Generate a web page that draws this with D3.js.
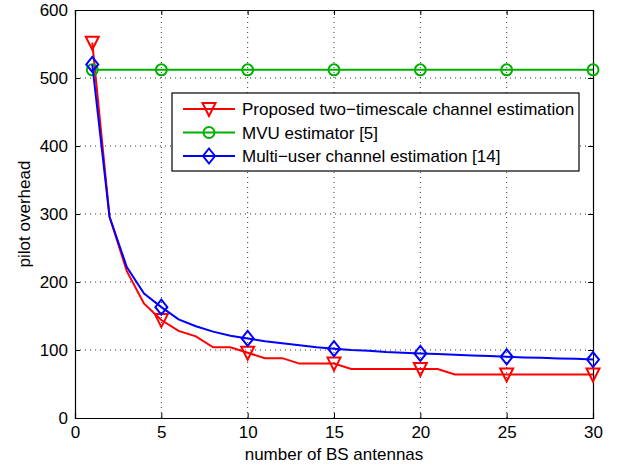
<!DOCTYPE html>
<html>
<head>
<meta charset="utf-8">
<script src="https://cdn.jsdelivr.net/npm/d3@7"></script>
<style>
  body { margin: 0; background: #fff; }
  text { font-family: "Liberation Sans", Arial, sans-serif; fill: #000; }
</style>
</head>
<body>
<script>
const antennas = d3.range(1, 31);
const proposed = [552, 296, 216, 168, 144, 128, 120, 104, 104, 96,
  88, 88, 80, 80, 80, 72, 72, 72, 72, 72,
  72, 64, 64, 64, 64, 64, 64, 64, 64, 64];
const mvu = antennas.map(() => 512);
const multiUser = [520, 296, 222, 183, 163, 145, 135, 127, 121, 117,
  113, 110, 107, 104, 102, 100, 99, 97, 96, 95,
  94, 93, 92, 91, 90, 89, 88.5, 87.5, 87, 86];
const markerAt = [1, 5, 10, 15, 20, 25, 30];
const xTicks = [0, 5, 10, 15, 20, 25, 30];
const yTicks = [0, 100, 200, 300, 400, 500, 600];

const series = [
  { name: 'Proposed two\u2212timescale channel estimation', values: proposed, color: '#ff0000', marker: 'tri' },
  { name: 'MVU estimator [5]', values: mvu, color: '#00b000', marker: 'circle' },
  { name: 'Multi\u2212user channel estimation [14]', values: multiUser, color: '#0000ff', marker: 'diamond' }
];

const W = 621, H = 468;
const margin = { left: 75, right: 28, top: 10, bottom: 50 };
const fontSize = '17px';

const svg = d3.select('body').append('svg')
  .attr('width', W)
  .attr('height', H);

const x = d3.scaleLinear().domain([0, 30]).range([margin.left, W - margin.right]);
const y = d3.scaleLinear().domain([0, 600]).range([H - margin.bottom, margin.top]);

// grid
const grid = svg.append('g')
  .attr('stroke', '#000')
  .attr('stroke-width', 0.8)
  .attr('stroke-dasharray', '1,4');
grid.selectAll('.gx').data(xTicks.slice(1, -1)).enter().append('line')
  .attr('x1', (d) => x(d)).attr('x2', (d) => x(d))
  .attr('y1', y(0)).attr('y2', y(600));
grid.selectAll('.gy').data(yTicks.slice(1, -1)).enter().append('line')
  .attr('x1', x(0)).attr('x2', x(30))
  .attr('y1', (d) => y(d)).attr('y2', (d) => y(d));

// axes (ticks inward, on all sides)
const tick = 5;
svg.append('g')
  .attr('transform', `translate(0,${y(0)})`)
  .call(d3.axisBottom(x).tickValues(xTicks).tickSize(-tick).tickPadding(8));
svg.append('g')
  .attr('transform', `translate(0,${y(600)})`)
  .call(d3.axisTop(x).tickValues(xTicks).tickSize(-tick).tickFormat(''));
svg.append('g')
  .attr('transform', `translate(${x(0)},0)`)
  .call(d3.axisLeft(y).tickValues(yTicks).tickSize(-tick).tickPadding(7));
svg.append('g')
  .attr('transform', `translate(${x(30)},0)`)
  .call(d3.axisRight(y).tickValues(yTicks).tickSize(-tick).tickFormat(''));

svg.selectAll('.domain').attr('stroke', '#000').attr('stroke-width', 1.2);
svg.selectAll('.tick line').attr('stroke', '#000');
svg.selectAll('.tick text')
  .style('font-family', '"Liberation Sans", Arial, sans-serif')
  .style('font-size', fontSize);

// lines
const line = d3.line()
  .x((d, i) => x(antennas[i]))
  .y((d) => y(d));

const drawMarker = (g, type, color, cx, cy) => {
  if (type === 'tri') {
    g.append('path')
      .attr('d', `M${cx - 6.5},${cy - 6}L${cx + 6.5},${cy - 6}L${cx},${cy + 7}Z`)
      .attr('fill', 'none').attr('stroke', color).attr('stroke-width', 2);
  } else if (type === 'circle') {
    g.append('circle')
      .attr('cx', cx).attr('cy', cy).attr('r', 5.5)
      .attr('fill', 'none').attr('stroke', color).attr('stroke-width', 2);
  } else {
    g.append('path')
      .attr('d', `M${cx},${cy - 7.5}L${cx + 6},${cy}L${cx},${cy + 7.5}L${cx - 6},${cy}Z`)
      .attr('fill', 'none').attr('stroke', color).attr('stroke-width', 2);
  }
};

series.forEach((s) => {
  const g = svg.append('g');
  g.append('path')
    .datum(s.values)
    .attr('d', line)
    .attr('fill', 'none')
    .attr('stroke', s.color)
    .attr('stroke-width', 2);
  markerAt.forEach((m) => {
    drawMarker(g, s.marker, s.color, x(m), y(s.values[m - 1]));
  });
});

// legend
const legend = svg.append('g').attr('transform', 'translate(172,93)');
legend.append('rect')
  .attr('width', 407).attr('height', 78)
  .attr('fill', '#fff').attr('stroke', '#000').attr('stroke-width', 1.2);
series.forEach((s, i) => {
  const ly = 16 + i * 23.5;
  legend.append('line')
    .attr('x1', 11).attr('x2', 63)
    .attr('y1', ly).attr('y2', ly)
    .attr('stroke', s.color).attr('stroke-width', 2);
  drawMarker(legend, s.marker, s.color, 37, ly);
  legend.append('text')
    .attr('x', 70).attr('y', ly + 6)
    .style('font-size', fontSize)
    .text(s.name);
});

// axis labels
svg.append('text')
  .attr('x', x(15)).attr('y', 460)
  .attr('text-anchor', 'middle')
  .style('font-size', fontSize)
  .text('number of BS antennas');
svg.append('text')
  .attr('transform', `translate(30,${y(300)}) rotate(-90)`)
  .attr('text-anchor', 'middle')
  .style('font-size', fontSize)
  .text('pilot overhead');
</script>
</body>
</html>
